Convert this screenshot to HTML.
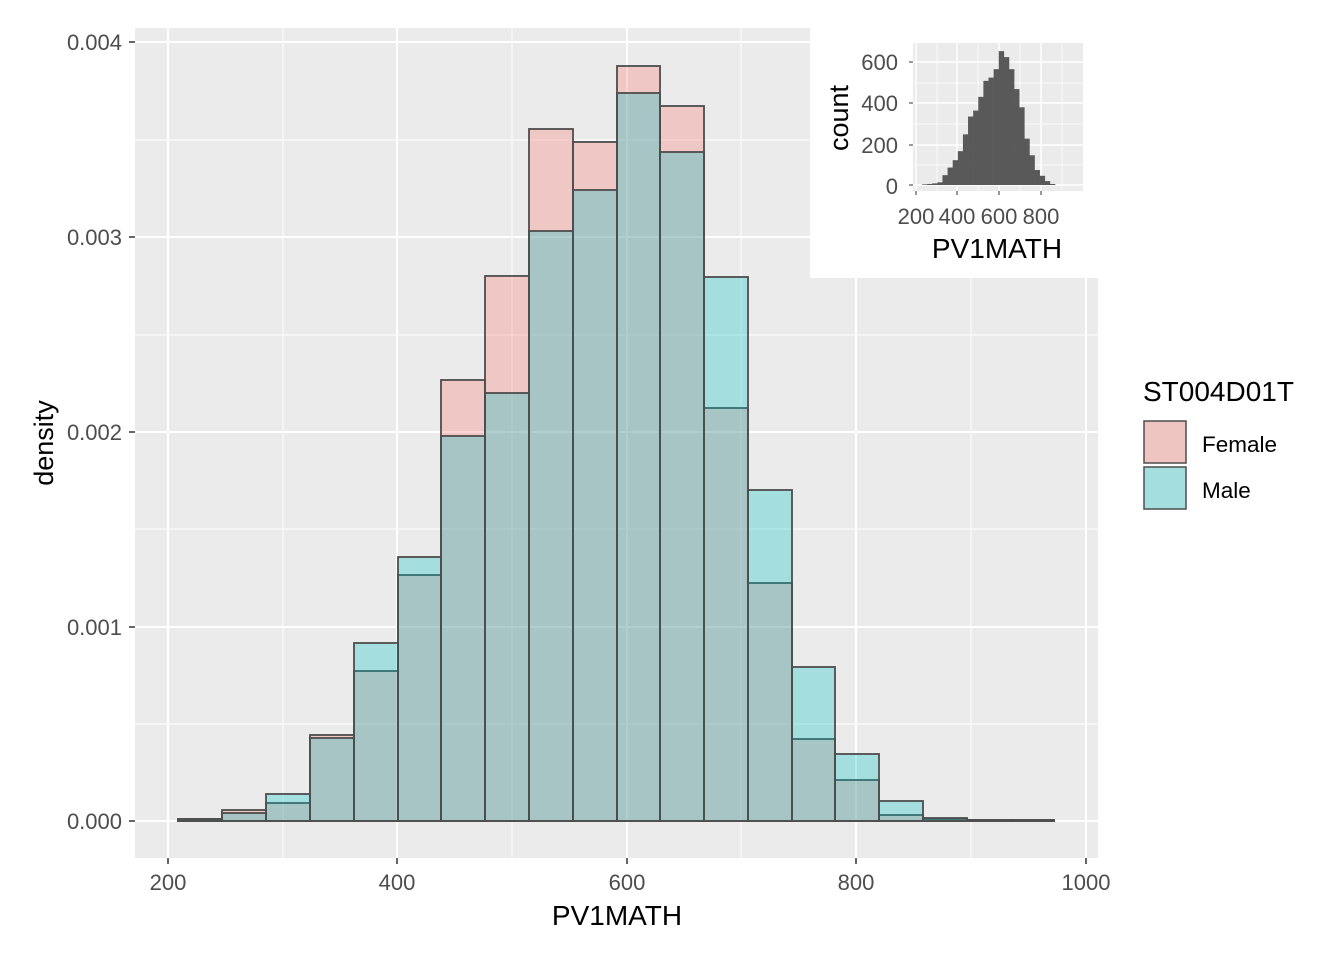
<!DOCTYPE html>
<html><head><meta charset="utf-8"><style>body{margin:0;background:#fff}svg{display:block;font-family:"Liberation Sans",sans-serif}</style></head>
<body>
<svg id="s" width="1344" height="960" xmlns="http://www.w3.org/2000/svg">
<rect x="135" y="28" width="963" height="830" fill="#EBEBEB"/>
<g id="grid"></g>
<g id="bars"></g>
<rect x="810" y="28" width="288" height="250" fill="#fff"/>
<rect x="913" y="43" width="170" height="148" fill="#EBEBEB"/>
<g id="inset"></g>
<g fill="#4D4D4D" font-size="22">
<text x="122" y="50" text-anchor="end">0.004</text>
<text x="122" y="245" text-anchor="end">0.003</text>
<text x="122" y="440" text-anchor="end">0.002</text>
<text x="122" y="635" text-anchor="end">0.001</text>
<text x="122" y="829" text-anchor="end">0.000</text>
<text x="168" y="890" text-anchor="middle">200</text>
<text x="397" y="890" text-anchor="middle">400</text>
<text x="627" y="890" text-anchor="middle">600</text>
<text x="856" y="890" text-anchor="middle">800</text>
<text x="1086" y="890" text-anchor="middle">1000</text>
<text x="898" y="70" text-anchor="end">600</text>
<text x="898" y="111" text-anchor="end">400</text>
<text x="898" y="153" text-anchor="end">200</text>
<text x="898" y="194" text-anchor="end">0</text>
<text x="916" y="224" text-anchor="middle">200</text>
<text x="957" y="224" text-anchor="middle">400</text>
<text x="999" y="224" text-anchor="middle">600</text>
<text x="1041" y="224" text-anchor="middle">800</text>
</g>
<g fill="#000" font-size="28">
<text x="617" y="925" text-anchor="middle">PV1MATH</text>
<text transform="translate(53,443) rotate(-90)" text-anchor="middle" font-size="27">density</text>
<text x="997" y="258" text-anchor="middle">PV1MATH</text>
<text transform="translate(848,118) rotate(-90)" text-anchor="middle" font-size="27">count</text>
<text x="1143" y="401" font-size="28">ST004D01T</text>
<text x="1202" y="452" font-size="22.5">Female</text>
<text x="1202" y="498" font-size="22.5">Male</text>
</g>
<rect x="1144" y="421" width="42" height="42" fill="#EFC5C2" stroke="#4D4D4D" stroke-width="1.5"/>
<rect x="1144" y="467" width="42" height="42" fill="#A4DEDF" stroke="#4D4D4D" stroke-width="1.5"/>
</svg>
<script>
const NS="http://www.w3.org/2000/svg";
function el(p,t,a){const e=document.createElementNS(NS,t);for(const k in a)e.setAttribute(k,a[k]);document.getElementById(p).appendChild(e);return e;}
[283,512,741,971].forEach(x=>el("grid","line",{x1:x,x2:x,y1:28,y2:858,stroke:"#fff","stroke-width":1}));
[724,529,335,140].forEach(y=>el("grid","line",{x1:135,x2:1098,y1:y,y2:y,stroke:"#fff","stroke-width":1}));
[168,397,627,856,1086].forEach(x=>{el("grid","line",{x1:x,x2:x,y1:28,y2:858,stroke:"#fff","stroke-width":2});el("grid","line",{x1:x,x2:x,y1:858,y2:864,stroke:"#333","stroke-width":1.5});});
[821,627,432,237,42].forEach(y=>{el("grid","line",{x1:135,x2:1098,y1:y,y2:y,stroke:"#fff","stroke-width":2});el("grid","line",{x1:129,x2:135,y1:y,y2:y,stroke:"#333","stroke-width":1.5});});
const edges=[178,222,266,310,354,398,441,485,529,573,617,660,704,748,792,835,879,923,967,1011,1054];
const F=[819,810,803,735,671,575,380,276,129,142,66,106,408,583,739,780,815,819,820,820];
const M=[819,813,794,738,643,557,436,393,231,190,93,152,277,490,667,754,801,818,820,820];
for(let i=0;i<20;i++)el("bars","rect",{x:edges[i],y:F[i],width:edges[i+1]-edges[i],height:821-F[i],fill:"#F8766D","fill-opacity":0.3,stroke:"#4D4D4D","stroke-width":1.8});
for(let i=0;i<20;i++)el("bars","rect",{x:edges[i],y:M[i],width:edges[i+1]-edges[i],height:821-M[i],fill:"#00BFC4","fill-opacity":0.3,stroke:"#4D4D4D","stroke-width":1.8});
[937,978,1020,1062].forEach(x=>el("inset","line",{x1:x,x2:x,y1:43,y2:191,stroke:"#fff","stroke-width":0.7}));
[165,124,83].forEach(y=>el("inset","line",{x1:913,x2:1083,y1:y,y2:y,stroke:"#fff","stroke-width":0.7}));
[916,957,999,1041].forEach(x=>{el("inset","line",{x1:x,x2:x,y1:43,y2:191,stroke:"#fff","stroke-width":1.4});el("inset","line",{x1:x,x2:x,y1:191,y2:195,stroke:"#333"});});
[185,145,103,62].forEach(y=>{el("inset","line",{x1:913,x2:1083,y1:y,y2:y,stroke:"#fff","stroke-width":1.4});el("inset","line",{x1:909,x2:913,y1:y,y2:y,stroke:"#333"});});
const C=[3,5,8,13,48,85,121,165,247,334,363,430,508,524,565,653,624,565,468,379,226,145,73,45,19,5];
const x0=922,w=(1055-922)/26;
C.forEach((c,i)=>{const h=c*123/600;el("inset","rect",{x:x0+i*w,y:185-h,width:w+0.3,height:h,fill:"#595959"});});
</script>
</body></html>
